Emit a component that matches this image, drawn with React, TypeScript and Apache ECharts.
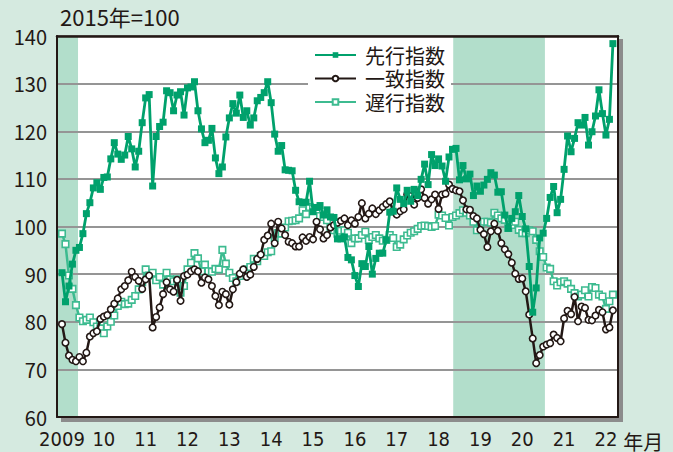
import React, { useEffect, useRef } from "react";
import * as echarts from "echarts";

// Month index 0 = 2009/01 ... 158 = 2022/03
const yearLabels = ["2009", "10", "11", "12", "13", "14", "15", "16", "17", "18", "19", "20", "21", "22"];
const yearTicks = yearLabels.map((_, i) => i * 12);

const leading = [
  90.3, 84.2, 87.5, 92.1, 95.0, 95.6, 98.5, 102.7, 105.0, 108.1,
  109.2, 107.8, 110.3, 110.4, 114.2, 117.6, 115.2, 114.1, 115.0, 118.9,
  116.3, 112.5, 115.8, 121.8, 127.0, 127.7, 108.5, 118.9, 121.0, 121.9,
  128.5, 128.1, 124.3, 127.6, 128.3, 123.4, 129.1, 129.3, 130.4, 124.3,
  120.5, 117.6, 118.1, 120.6, 114.4, 111.1, 112.5, 118.8, 122.8, 125.8,
  123.8, 127.6, 122.9, 124.3, 121.3, 122.8, 126.4, 127.1, 128.1, 130.4,
  126.0, 119.4, 115.8, 117.0, 111.9, 111.8, 111.7, 107.6, 105.2, 105.0,
  105.1, 109.5, 103.1, 104.0, 104.4, 102.4, 103.5, 102.0, 101.9, 97.4,
  97.4, 97.8, 93.5, 93.0, 89.7, 87.4, 92.2, 91.6, 95.8, 90.0,
  93.3, 94.4, 94.4, 97.2, 103.0, 103.2, 108.1, 105.7, 104.8, 107.6,
  105.3, 107.8, 106.5, 109.9, 113.1, 108.8, 115.1, 112.8, 114.2, 112.7,
  109.5, 114.6, 116.2, 116.4, 109.8, 112.8, 110.0, 111.0, 106.5, 108.5,
  107.4, 108.7, 109.9, 111.3, 110.8, 107.2, 107.3, 102.4, 99.6, 101.7,
  103.1, 106.5, 102.1, 99.5, 91.6, 82.0, 87.1, 97.6, 98.6, 101.7,
  106.1, 108.4, 102.9, 105.7, 112.0, 119.0, 115.7, 118.5, 121.8, 121.3,
  122.9, 117.1, 119.9, 123.2, 128.7, 123.7, 119.2, 122.5, 138.4,
];

const coincident = [
  79.5, 75.6, 72.9, 72.0, 71.7, 72.6, 71.7, 73.5, 76.9, 77.6,
  78.0, 80.6, 81.1, 81.4, 82.6, 83.8, 84.9, 86.8, 87.5, 88.7,
  90.5, 89.4, 88.6, 86.9, 88.9, 89.7, 78.8, 81.0, 83.0, 85.8,
  88.3, 86.8, 86.3, 88.8, 84.4, 89.6, 89.9, 90.6, 91.0, 90.6,
  88.2, 89.3, 88.9, 87.5, 85.4, 83.5, 86.3, 85.8, 83.6, 86.8,
  88.3, 90.1, 91.0, 89.4, 89.9, 91.5, 93.2, 94.1, 97.2, 98.1,
  100.6, 96.5, 101.0, 99.6, 98.2, 96.8, 96.5, 95.8, 95.8, 97.7,
  97.0, 97.8, 97.3, 101.0, 99.4, 97.5, 98.2, 99.8, 100.3, 100.8,
  101.2, 101.7, 100.3, 101.3, 100.6, 102.0, 104.9, 101.7, 102.7, 103.8,
  102.6, 103.4, 104.1, 104.7, 105.3, 103.2, 102.5, 103.2, 103.6, 106.7,
  106.4, 104.6, 106.0, 107.8, 106.0, 104.8, 105.7, 106.7, 103.7, 106.7,
  106.9, 108.8, 107.9, 107.6, 107.4, 105.5, 103.6, 103.5, 102.2, 101.7,
  99.3, 98.4, 95.7, 99.0, 100.6, 99.1, 96.5, 95.2, 94.2, 92.4,
  90.1, 89.0, 89.1, 86.4, 81.5, 76.5, 71.3, 73.0, 74.8, 75.2,
  75.5, 77.3, 76.6, 75.9, 80.7, 82.3, 81.6, 85.2, 80.1, 83.2,
  82.9, 80.4, 80.3, 81.3, 82.5, 82.0, 78.4, 78.8, 82.4,
];

const lagging = [
  98.5, 96.3, 89.7, 86.9, 83.5, 80.9, 80.1, 80.4, 80.9, 79.9,
  79.0, 78.6, 77.6, 79.0, 80.0, 81.3, 83.3, 84.2, 83.7, 83.8,
  84.6, 85.4, 86.8, 88.3, 91.0, 89.7, 90.3, 88.7, 89.4, 87.8,
  90.3, 88.9, 88.5, 88.9, 86.1, 87.5, 91.0, 92.4, 94.4, 93.3,
  90.6, 92.0, 90.6, 90.5, 91.1, 91.0, 95.1, 92.2, 90.3, 89.2,
  88.5, 89.6, 90.3, 91.0, 91.5, 93.2, 92.7, 93.8, 93.8, 94.6,
  94.8, 97.6, 98.6, 98.5, 99.8, 101.1, 101.2, 101.3, 101.7, 103.4,
  102.6, 104.1, 103.8, 103.4, 102.2, 102.0, 101.3, 99.8, 99.2, 98.5,
  99.1, 99.2, 98.7, 96.5, 97.5, 97.5, 98.2, 98.9, 97.2, 97.8,
  98.2, 97.5, 97.0, 97.2, 98.2, 97.6, 95.7, 96.2, 97.3, 98.1,
  98.7, 99.0, 99.5, 100.1, 100.2, 100.1, 99.9, 100.1, 102.5, 102.3,
  101.8, 100.2, 102.0, 102.3, 102.8, 103.4, 102.9, 102.3, 101.0, 99.2,
  100.5, 101.0, 101.0, 100.8, 102.9, 102.3, 101.7, 101.4, 99.7, 100.3,
  101.0, 99.3, 98.6, 98.6, 99.2, 99.0, 97.2, 94.8, 93.6, 91.4,
  91.1, 88.5, 87.6, 88.3, 88.5, 88.0, 86.9, 86.0, 85.3, 85.7,
  86.6, 85.3, 87.3, 87.1, 85.7, 85.3, 82.7, 84.3, 85.7,
];

// recession shading, in month-index units
const X_MIN = -1.43;
const X_MAX = 159.46;
const recessions = [
  [X_MIN, 4.6],
  [112.2, 138.5],
];

const seriesNames = ["先行指数", "一致指数", "遅行指数"];

const LEAD = "#00a16c";
const COIN = "#231815";
const LAG = "#3dbb90";
const TEXT = "#231815";
const SHADOW = "#8c8c8c";
const FONT = "'Noto Sans CJK JP', 'Noto Sans', sans-serif";
const NARROW = "'Liberation Sans Narrow', 'DejaVu Sans Condensed', 'Noto Sans CJK JP', sans-serif";

export default function App() {
  const ref = useRef<HTMLDivElement>(null);

  useEffect(() => {
    if (!ref.current) return;
    const chart = echarts.init(ref.current, null, { renderer: "svg" });
    const toPairs = (arr: number[]) => arr.map((v, i) => [i, v]);

    const option: any = {
      animation: false,
      backgroundColor: "#d5eae0",
      title: {
        text: "2015年=100",
        left: 55,
        top: 0,
        textStyle: { fontFamily: FONT, fontSize: 22, fontWeight: "normal", color: TEXT },
      },
      graphic: [
        // drop shadow of the plot frame (right and bottom strips)
        { type: "rect", silent: true, shape: { x: 619, y: 39, width: 4, height: 383 }, style: { fill: SHADOW } },
        { type: "rect", silent: true, shape: { x: 61, y: 418, width: 562, height: 4 }, style: { fill: SHADOW } },
      ],
      legend: {
        data: seriesNames,
        orient: "vertical",
        left: 308,
        top: 38,
        padding: [7, 6, 9, 6],
        backgroundColor: "#fff",
        itemWidth: 41,
        itemHeight: 7,
        itemGap: 3.5,
        textStyle: { fontFamily: FONT, fontSize: 20, color: TEXT, lineHeight: 20, padding: [0, 0, 0, 4] },
      },
      grid: {
        left: 57,
        right: 55,
        top: 36,
        bottom: 35,
        show: true,
        backgroundColor: "#fff",
        borderWidth: 0,
        outerBoundsMode: "none",
      },
      xAxis: [
        {
          type: "value",
          min: X_MIN,
          max: X_MAX,
          z: 1.5,
          axisLine: { show: true, onZero: false, lineStyle: { color: COIN, width: 2 } },
          axisTick: { show: false },
          splitLine: { show: false },
          axisLabel: {
            customValues: yearTicks,
            formatter: (v: number) => yearLabels[Math.round(v / 12)] ?? "",
            fontFamily: NARROW,
            fontSize: 20,
            color: TEXT,
            margin: 12,
          },
          name: "年月",
          nameLocation: "end",
          nameGap: 3,
          nameTextStyle: {
            fontFamily: FONT,
            fontSize: 20,
            color: TEXT,
            verticalAlign: "top",
            lineHeight: 20,
            padding: [14, 0, 0, 0],
          },
        },
        {
          type: "value",
          position: "top",
          min: X_MIN,
          max: X_MAX,
          z: 1.5,
          axisLine: { show: true, onZero: false, lineStyle: { color: COIN, width: 2.5 } },
          axisTick: { show: false },
          axisLabel: { show: false },
          splitLine: { show: false },
        },
      ],
      yAxis: [
        {
          type: "value",
          min: 60,
          max: 140,
          interval: 10,
          z: 1.5,
          axisLine: { show: true, onZero: false, lineStyle: { color: COIN, width: 2 } },
          axisTick: { show: false },
          splitLine: { show: true, lineStyle: { color: "#959595", width: 2 } },
          axisLabel: {
            fontFamily: FONT,
            fontSize: 20,
            color: TEXT,
            margin: 10,
            padding: [6, 0, 0, 0],
          },
        },
        {
          type: "value",
          position: "right",
          min: 60,
          max: 140,
          interval: 10,
          z: 1.5,
          axisLine: { show: true, onZero: false, lineStyle: { color: COIN, width: 2 } },
          axisTick: { show: false },
          axisLabel: { show: false },
          splitLine: { show: false },
        },
      ],
      series: [
        {
          name: seriesNames[2],
          type: "line",
          data: toPairs(lagging),
          symbol: "rect",
          symbolSize: 6.5,
          showAllSymbol: true,
          lineStyle: { color: LAG, width: 2.5 },
          itemStyle: { color: "#fff", borderColor: LAG, borderWidth: 1.6 },
          z: 2,
          markArea: {
            silent: true,
            z: 1,
            itemStyle: { color: "#b2decb" },
            data: recessions.map(([a, b]) => [{ xAxis: a }, { xAxis: b }]),
          },
        },
        {
          name: seriesNames[1],
          type: "line",
          data: toPairs(coincident),
          symbol: "circle",
          symbolSize: 6.5,
          showAllSymbol: true,
          lineStyle: { color: COIN, width: 2.5 },
          itemStyle: { color: "#fff", borderColor: COIN, borderWidth: 1.6 },
          z: 3,
        },
        {
          name: seriesNames[0],
          type: "line",
          data: toPairs(leading),
          symbol: "rect",
          symbolSize: 7,
          showAllSymbol: true,
          lineStyle: { color: LEAD, width: 2.8 },
          itemStyle: { color: LEAD },
          z: 4,
        },
      ],
    };

    chart.setOption(option);
    return () => chart.dispose();
  }, []);

  return (
    <div
      ref={ref}
      style={{ position: "fixed", left: 0, top: 0, width: 673, height: 452 }}
    />
  );
}
